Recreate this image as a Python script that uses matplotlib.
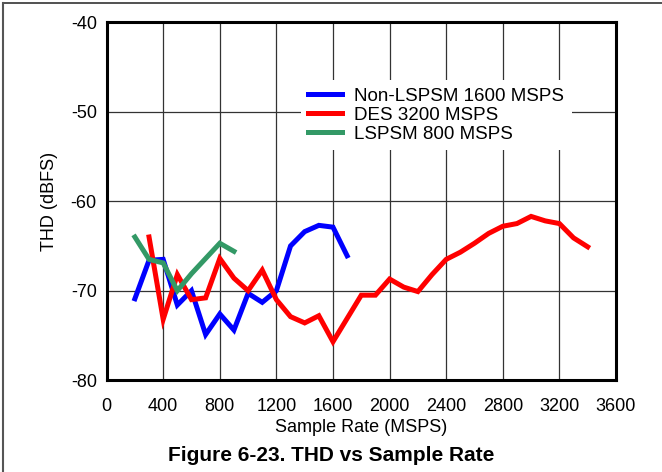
import numpy as np
import matplotlib
matplotlib.use("Agg")
import matplotlib.pyplot as plt
from matplotlib.lines import Line2D

plt.rcParams['font.family'] = ['Liberation Sans', 'DejaVu Sans']
plt.rcParams['axes.unicode_minus'] = False

# values
blue_x = [200, 300, 400, 500, 600, 700, 800, 900, 1000, 1100, 1200, 1300, 1400, 1500, 1600, 1700]
blue_y = [-70.9, -66.6, -66.5, -71.6, -70.0, -74.9, -72.6, -74.4, -70.3, -71.3, -70.0,
          -65.0, -63.4, -62.7, -62.9, -66.1]

red_x = [300, 400, 500, 600, 700, 800, 900, 1000, 1100, 1200, 1300, 1400, 1500, 1600, 1700,
         1800, 1900, 2000, 2100, 2200, 2300, 2400, 2500, 2600, 2700, 2800, 2900, 3000, 3100,
         3200, 3300, 3400]
red_y = [-64.0, -73.2, -68.2, -71.0, -70.8, -66.4, -68.6, -70.0, -67.7, -71.0, -72.9, -73.6,
         -72.8, -75.7, -73.1, -70.5, -70.5, -68.7, -69.6, -70.1, -68.2, -66.5, -65.7, -64.7,
         -63.6, -62.8, -62.5, -61.7, -62.2, -62.5, -64.1, -65.1]

green_x = [200, 300, 400, 500, 600, 800, 900]
green_y = [-64.0, -66.5, -66.9, -70.0, -68.1, -64.7, -65.6]

labels = ["Non-LSPSM 1600 MSPS", "DES 3200 MSPS", "LSPSM 800 MSPS"]
xticks = np.arange(0, 3601, 400)
yticks = np.arange(-80, -39, 10)

fig = plt.figure(figsize=(6.62, 4.72), dpi=100)
ax = fig.add_axes([0.161, 0.1945, 0.7695, 0.7585])

ax.plot(blue_x, blue_y, color='#0000ff', lw=3.6, label=labels[0], solid_joinstyle='miter', zorder=3)
ax.plot(red_x, red_y, color='#ff0000', lw=3.6, label=labels[1], solid_joinstyle='miter', zorder=3)
ax.plot(green_x, green_y, color='#339966', lw=3.6, label=labels[2], solid_joinstyle='miter', zorder=3)

ax.set_xlim(0, 3600)
ax.set_ylim(-80, -40)
ax.set_xticks(xticks)
ax.set_yticks(yticks)
ax.grid(True, color='#333333', lw=0.9)
ax.tick_params(direction='in', length=0, labelsize=13)
ax.tick_params(axis='x', pad=13)
ax.tick_params(axis='y', pad=7)
for s in ax.spines.values():
    s.set_linewidth(2.2)

ax.set_xlabel("Sample Rate (MSPS)", fontsize=13, labelpad=3)
ax.set_ylabel("THD (dBFS)", fontsize=13, labelpad=9)

leg = ax.legend(loc='upper left', bbox_to_anchor=(0.363, 0.864), frameon=True, fontsize=13.5,
                handlelength=1.8, handletextpad=0.65, labelspacing=0.1, borderpad=0.4)
leg.get_frame().set_edgecolor('none')
leg.get_frame().set_facecolor('white')
leg.get_frame().set_alpha(1)
for h in leg.get_lines():
    h.set_linewidth(3.6)

fig.text(0.5, 0.035, "Figure 6-23. THD vs Sample Rate", ha='center', va='center',
         fontsize=15, fontweight='bold')

# outer frame: top and left only
fig.add_artist(Line2D([0.004, 1.0], [0.994, 0.994], transform=fig.transFigure, color='#333333', lw=1.2))
fig.add_artist(Line2D([0.0045, 0.0045], [0.0, 0.994], transform=fig.transFigure, color='#555555', lw=1.5))

fig.savefig("out.png", dpi=100)
